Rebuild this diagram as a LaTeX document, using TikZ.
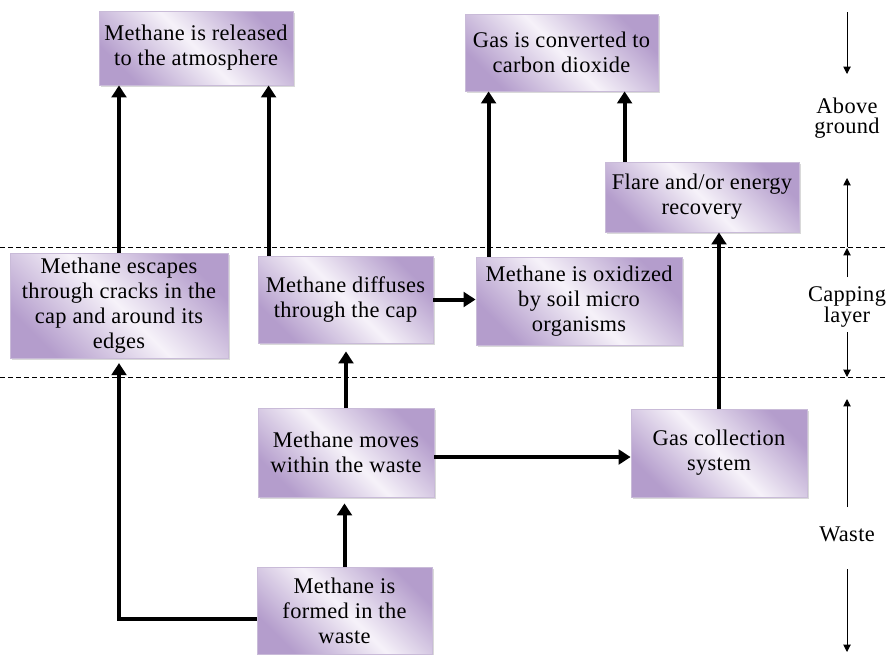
\documentclass[tikz,border=0pt]{standalone}
\usepackage{fontspec}
\setmainfont{Liberation Serif}[LetterSpace=1.5]
\usepackage{xcolor}
\usetikzlibrary{arrows.meta,shadows}
\definecolor{boxdark}{HTML}{B49DCC}
\definecolor{boxlight}{HTML}{F6F2F9}
\definecolor{boxedge}{HTML}{C9BBD8}

\begin{document}
\begin{tikzpicture}[x=0.75pt, y=-0.75pt, font=\fontsize{16.8}{18.8}\selectfont,
  stagebox/.style={draw=boxedge, line width=0.6pt, align=center, inner sep=2pt,
    top color=boxdark, bottom color=boxdark, middle color=boxlight, shading angle=-45,
    drop shadow={shadow xshift=1.5pt, shadow yshift=-1.5pt, opacity=0.3}},
  flow/.style={line width=3pt, -{Triangle[length=9pt,width=11pt]}},
  scalearrow/.style={line width=0.75pt, -{Triangle[length=5.5pt,width=5.5pt]}},
  layerline/.style={line width=0.6pt, dash pattern=on 3.75pt off 2.25pt},
  zonelabel/.style={align=center, font=\fontsize{16.8}{15.5}\selectfont}]
  \useasboundingbox (0,0) rectangle (888,654);

  % --- Layer boundaries ---
  \draw[layerline] (0,247) -- (888,247);
  \draw[layerline] (0,377) -- (888,377);

  % --- Above ground ---
  \node[stagebox, minimum width=145.5pt, minimum height=55.5pt] (n1) at (196,48)
    {Methane is released\\to the atmosphere};
  \node[stagebox, minimum width=144.75pt, minimum height=57.75pt] (n2) at (561.5,52.5)
    {Gas is converted to\\carbon dioxide};
  \node[stagebox, minimum width=145.5pt, minimum height=52.5pt] (n3) at (702,197)
    {Flare and/or energy\\recovery};

  % --- Capping layer ---
  \node[stagebox, minimum width=163.5pt, minimum height=78.75pt] (n4) at (119,305.5)
    {Methane escapes\\through cracks in the\\cap and around its\\edges};
  \node[stagebox, minimum width=131.25pt, minimum height=65.25pt] (n5) at (345.5,299.5)
    {Methane diffuses\\through the cap};
  \node[stagebox, minimum width=154.5pt, minimum height=66pt] (n6) at (579,301)
    {Methane is oxidized\\by soil micro\\organisms};

  % --- Waste ---
  \node[stagebox, minimum width=132pt, minimum height=66.75pt] (n7) at (346,452.5)
    {Methane moves\\within the waste};
  \node[stagebox, minimum width=132pt, minimum height=66pt] (n8) at (719,453)
    {Gas collection\\system};
  \node[stagebox, minimum width=131.25pt, minimum height=65.25pt] (n9) at (344.5,610.5)
    {Methane is\\formed in the\\waste};

  % --- Flows ---
  \coordinate (c5) at ([xshift=8.25pt]n5.north west);
  \coordinate (c6) at ([xshift=9.75pt]n6.north west);
  \coordinate (c3) at ([xshift=15pt]n3.north west);
  \coordinate (c7) at ([yshift=-3.4pt]n7.east);
  \coordinate (c9) at ([yshift=-6.4pt]n9.west);
  \draw[flow] (n4.north) -- (n4.north |- n1.south);
  \draw[flow] (c5) -- (c5 |- n1.south);
  \draw[flow] (c6) -- (c6 |- n2.south);
  \draw[flow] (c3) -- (c3 |- n2.south);
  \draw[flow] (n8.north) -- (n8.north |- n3.south);
  \draw[flow] (n5.east) -- (n5.east -| n6.west);
  \draw[flow] (c7) -- (c7 -| n8.west);
  \draw[flow, shorten >=6pt] (n7.north) -- (n7.north |- n5.south);
  \draw[flow, shorten >=4.5pt] (n9.north) -- (n9.north |- n7.south);
  \draw[flow, shorten >=3.5pt] (c9) -| (n4.south);

  % --- Zone scale on the right ---
  \node[zonelabel] (above) at (847,118) {Above\\ground};
  \node[zonelabel] (capping) at (847,307) {Capping\\layer};
  \node[zonelabel] (waste) at (847,534) {Waste};
  \coordinate (a1) at (847,12);  \coordinate (a2) at (847,74);
  \coordinate (a3) at (847,247); \coordinate (a4) at (847,178);
  \coordinate (b1) at (847,277); \coordinate (b2) at (847,248);
  \coordinate (b3) at (847,332); \coordinate (b4) at (847,377);
  \coordinate (w1) at (847,507); \coordinate (w2) at (847,399);
  \coordinate (w3) at (847,569); \coordinate (w4) at (847,652);
  \draw[scalearrow] (a1) -- (a2);
  \draw[scalearrow] (a3) -- (a4);
  \draw[scalearrow] (b1) -- (b2);
  \draw[scalearrow] (b3) -- (b4);
  \draw[scalearrow] (w1) -- (w2);
  \draw[scalearrow] (w3) -- (w4);
\end{tikzpicture}
\end{document}
